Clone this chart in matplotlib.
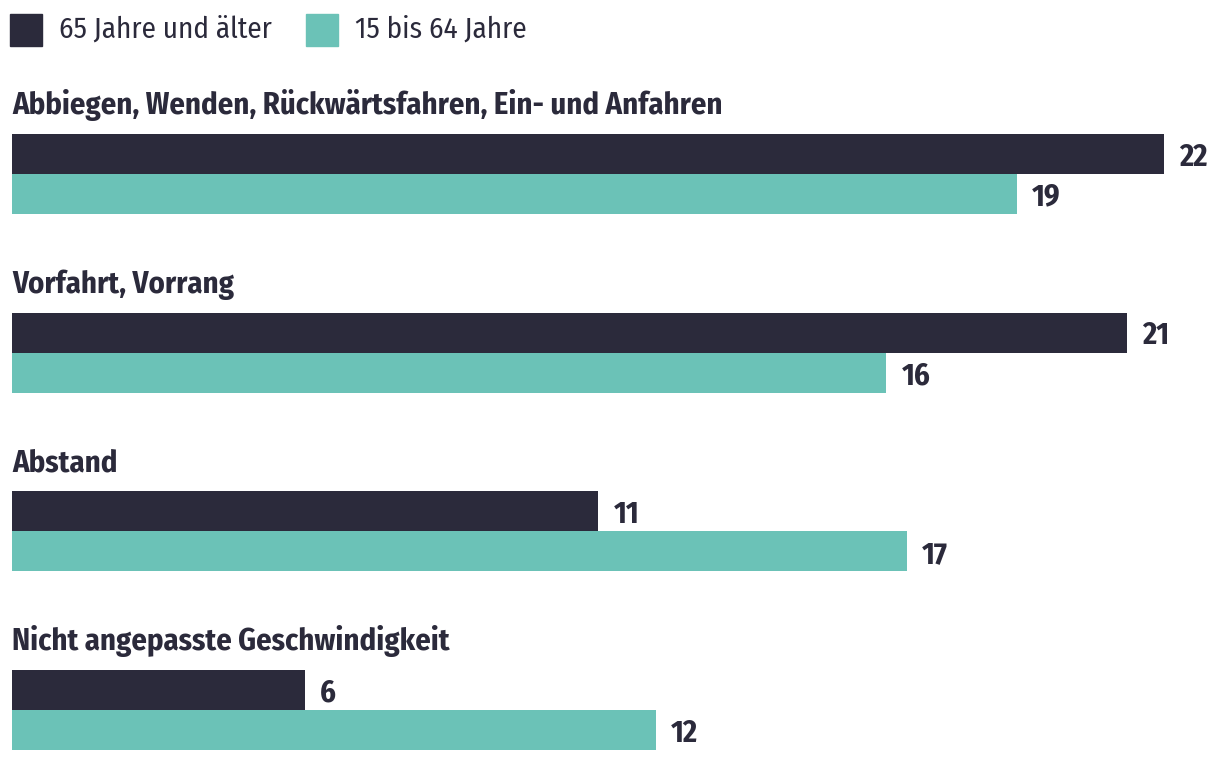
import matplotlib
matplotlib.use("Agg")
import matplotlib.pyplot as plt
import numpy as np
from matplotlib import font_manager
from matplotlib.patches import Rectangle

# Data (bar lengths, labels as printed)
categories = [
    "Abbiegen, Wenden, Rückwärtsfahren, Ein- und Anfahren",
    "Vorfahrt, Vorrang",
    "Abstand",
    "Nicht angepasste Geschwindigkeit",
]
series_names = ["65 Jahre und älter", "15 bis 64 Jahre"]
values_65plus = [22.0, 21.3, 11.2, 5.6]
values_15_64 = [19.2, 16.7, 17.1, 12.3]
labels_65plus = ["22", "21", "11", "6"]
labels_15_64 = ["19", "16", "17", "12"]

DARK = "#2b2a3b"
TEAL = "#6bc2b7"
TEXT = "#2b2a3b"

# condensed font if there is one, else fall back to DejaVu
available = {f.name for f in font_manager.fontManager.ttflist}
FONT = "DejaVu Sans"
for cand in ["Fira Sans Condensed", "Fira Sans Extra Condensed",
             "Barlow Semi Condensed", "Barlow Condensed"]:
    if cand in available:
        FONT = cand
        break
plt.rcParams["font.family"] = [FONT, "DejaVu Sans"]

W, H = 1220, 760
PX_PER_UNIT = 52.36
X0 = 12  # left edge of bars in pixels

fig = plt.figure(figsize=(W / 100, H / 100), dpi=100)
ax = fig.add_axes([0, 0, 1, 1])
ax.set_xlim(-X0 / PX_PER_UNIT, (W - X0) / PX_PER_UNIT)
ax.set_ylim(H, 0)
ax.axis("off")

bar_h = 40
first_top = 134
group_step = 178.7
tops = first_top + np.arange(len(categories)) * group_step

ax.barh(tops + bar_h / 2, values_65plus, height=bar_h, color=DARK)
ax.barh(tops + bar_h * 1.5, values_15_64, height=bar_h, color=TEAL)

label_gap = 15 / PX_PER_UNIT
for i, cat in enumerate(categories):
    ax.text(0, tops[i] - 20, cat, fontsize=22, fontweight="bold",
            color=TEXT, va="baseline", ha="left")
    ax.text(values_65plus[i] + label_gap, tops[i] + bar_h / 2, labels_65plus[i],
            fontsize=22, fontweight="bold", color=TEXT, va="center_baseline", ha="left")
    ax.text(values_15_64[i] + label_gap, tops[i] + bar_h * 1.5, labels_15_64[i],
            fontsize=22, fontweight="bold", color=TEXT, va="center_baseline", ha="left")

# legend
legend_x = [10, 306]
for lx, name, col in zip(legend_x, series_names, [DARK, TEAL]):
    fig.patches.append(Rectangle((lx / W, 1 - 46 / H), 32 / W, 32 / H,
                                 transform=fig.transFigure, color=col))
    fig.text((lx + 49) / W, 1 - 38 / H, name, fontsize=21, color=TEXT,
             va="baseline", ha="left")

fig.savefig("out.png", dpi=100)
